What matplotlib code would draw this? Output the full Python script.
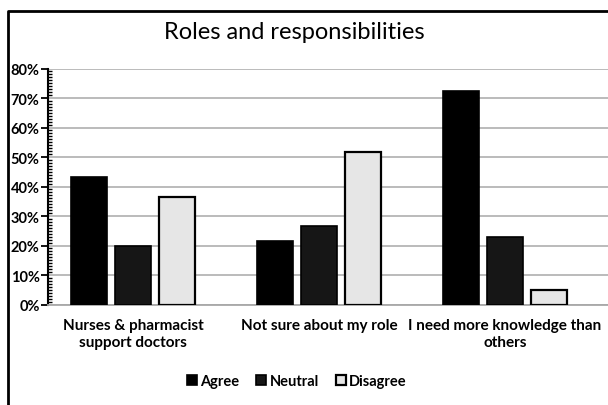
import matplotlib.pyplot as plt
import numpy as np
from matplotlib.ticker import MultipleLocator, PercentFormatter
from matplotlib.lines import Line2D

plt.rcParams["font.family"] = ["Lato", "DejaVu Sans"]

# Data (fractions)
categories = ["Nurses & pharmacist\nsupport doctors", "Not sure about my role",
              "I need more knowledge than\nothers"]
agree = [0.433, 0.214, 0.725]
neutral = [0.199, 0.267, 0.230]
disagree = [0.365, 0.516, 0.048]
series_names = ["Agree", "Neutral", "Disagree"]

fig = plt.figure(figsize=(6.08, 4.06), dpi=100)
ax = fig.add_axes([0.079, 0.2475, 0.921, 0.5813])

x = np.arange(len(categories))
w = 0.194
off = 0.237
ax.bar(x - off, agree, w, color="#000000", edgecolor="black", linewidth=1.2, label=series_names[0], zorder=3)
ax.bar(x, neutral, w, color="#161616", edgecolor="black", linewidth=1.2, label=series_names[1], zorder=3)
ax.bar(x + off, disagree, w, color="#e6e6e6", edgecolor="black", linewidth=1.6, label=series_names[2], zorder=3)

ax.set_xlim(-0.457, 2.554)
ax.set_ylim(0, 0.8)
ax.yaxis.set_major_locator(MultipleLocator(0.1))
ax.yaxis.set_minor_locator(MultipleLocator(0.01))
ax.yaxis.set_major_formatter(PercentFormatter(1.0, decimals=0))
ax.yaxis.grid(True, color="#b5b5b5", linewidth=1.3, zorder=0)

for s in ["top", "right"]:
    ax.spines[s].set_visible(False)
ax.spines["left"].set_linewidth(1.5)
ax.spines["bottom"].set_color("#a8a8a8")
ax.spines["bottom"].set_linewidth(1.3)

ax.tick_params(axis="y", which="major", direction="out", length=5, width=1.3, labelsize=10.5, pad=1)
ax.tick_params(axis="y", which="minor", direction="in", length=3, width=1.0)
ax.tick_params(axis="x", length=0, labelsize=11, pad=10)
ax.set_xticks(x)
ax.set_xticklabels(categories, fontweight="bold", linespacing=1.2)
for lab in ax.get_yticklabels():
    lab.set_fontweight("bold")

fig.text(0.484, 0.92, "Roles and responsibilities", ha="center", va="center", fontsize=17)

leg = fig.legend(loc="center", bbox_to_anchor=(0.488, 0.058), ncol=3, frameon=False,
                 prop={"weight": "bold", "size": 10.5}, handlelength=0.7, handleheight=0.7,
                 handletextpad=0.2, columnspacing=1.2)

# outer frame of the chart: only the left and top edges are inside the picture
fx = 8 / 608
fy = 1 - 12 / 406
fig.add_artist(Line2D([fx, fx, 1.0], [0.0, fy, fy], transform=fig.transFigure,
                      color="black", linewidth=2))

fig.savefig("out.png", dpi=100)
